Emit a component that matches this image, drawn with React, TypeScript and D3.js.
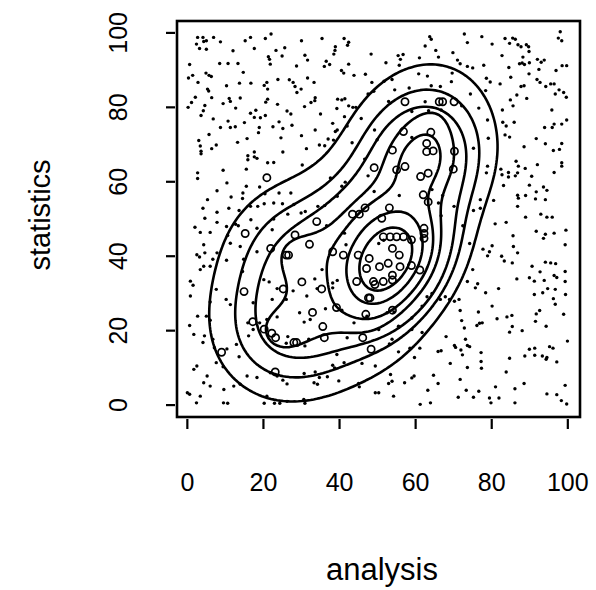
import React from "react";
import * as d3 from "d3";

// ---- data ----
const circlePts: [number, number][] = [
  [57.2,81.5],[66.2,81.5],[67.1,81.5],[70.1,81.5],
  [56.8,73.5],[64.0,73.3],[62.9,70.3],[64.6,68.3],[62.9,68.1],
  [53.9,68.5],[70.2,68.2],[57.2,64.1],[49.1,63.8],[55.0,63.2],
  [61.3,61.4],[63.3,62.3],[69.9,63.4],[20.9,61.1],[62.0,56.5],
  [63.3,54.6],[46.7,53.0],[53.1,53.0],[43.4,51.3],[45.2,51.3],
  [51.1,50.2],[34.0,49.3],[15.2,46.1],[28.3,45.7],[21.9,42.1],
  [26.0,40.3],[26.6,40.3],[32.1,43.2],[38.2,41.2],[41.0,40.3],
  [44.9,40.3],[47.8,39.4],[51.5,45.2],[53.3,45.2],[55.0,45.2],
  [56.8,45.2],[58.9,44.4],[62.2,47.5],[62.2,46.1],[62.2,44.8],
  [53.9,42.1],[55.7,40.3],[47.1,36.7],[50.5,37.2],[52.8,38.1],
  [55.9,37.2],[58.9,37.5],[61.1,36.3],[53.9,34.9],[53.9,33.6],
  [44.5,33.2],[48.9,33.2],[49.3,32.4],[51.5,33.2],[47.6,28.8],[48.0,28.8],
  [30.1,33.1],[25.2,31.2],[35.3,31.2],[14.9,30.5],[39.2,26.2],
  [32.9,24.9],[46.9,24.4],[53.9,25.5],[17.2,22.4],[20.2,20.4],
  [22.2,19.3],[23.2,18.1],[35.6,21.1],[36.0,18.1],[28.0,16.8],[28.7,16.8],
  [46.1,18.1],[48.3,15.0],[9.0,14.2],[23.1,8.9]
];

const dotsTopLeft: [number, number][] = [
  [2.7,98.8],[4.1,98.8],[5.0,97.9],[4.3,97.7],[6.9,98.8],[8.7,97.6],[2.4,97.0],[3.2,95.8],[5.0,95.6],
  [15.2,97.9],[16.6,98.8],[20.5,98.5],[22.0,99.7],[30.0,97.9],[25.6,96.0],[23.3,95.3],[17.6,95.8],[12.0,95.2],
  [21.3,93.6],[21.6,92.9],[24.9,93.8],[30.9,94.0],[31.6,92.7],[21.8,91.6],[28.7,91.1],
  [8.5,91.8],[10.7,91.8],[13.3,91.8],[0.6,91.5],[14.7,89.4],[4.9,89.2],[5.7,88.6],[6.3,88.3],[1.4,88.6],[0.3,87.9],
  [2.8,86.7],[13.7,86.5],[16.7,86.5],[20.9,86.7],[20.2,85.9],[23.8,87.5],[26.8,87.4],[27.8,86.7],[28.3,85.6],[31.6,87.9],[10.3,85.8],
  [5.3,84.9],[5.6,84.4],[21.1,84.9],[28.8,84.0],[29.9,84.9],
  [2.1,82.7],[6.4,82.6],[11.0,82.4],[11.3,81.6],[13.9,82.5],[9.4,81.0],[21.1,82.2],[20.6,81.4],[23.7,80.8],[1.1,81.3],[0.2,80.0],[4.6,80.5],[32.5,81.3],
  [12.7,79.8],[4.2,79.1],[3.6,77.8],[16.6,78.4],[18.0,79.2],[17.6,77.3],[19.2,77.2],[20.5,77.8],[26.2,79.0],[27.2,78.2],[30.8,80.2],
  [6.8,76.9],[10.7,76.3],[8.7,74.6],[11.3,74.6],[12.6,74.8],[15.0,75.9],[18.9,74.6],[22.5,74.8],[24.1,76.1],[25.1,74.3],[27.5,75.2],
  [5.7,72.7],[18.7,73.2],[24.6,71.8],[30.0,72.4],[3.0,71.1],[3.4,69.6],[7.6,69.9],[6.4,68.9],[13.2,70.6],[15.7,71.6],[3.6,68.2],[17.6,68.0],[31.3,68.9],[25.1,68.0]
];

const dotsTopMid: [number, number][] = [
  [35.4,98.5],[41.2,98.5],[63.7,99.0],[64.1,98.3],[42.4,97.5],[42.1,96.7],[38.9,96.3],[62.5,96.5],[38.8,95.3],[38.5,94.3],
  [65.3,95.3],[48.3,94.3],[55.4,93.9],[56.7,94.2],[56.0,92.9],[61.0,93.3],[66.0,93.5],[36.5,92.4],[36.0,91.0],[37.4,91.5],
  [42.4,91.6],[52.2,92.0],[55.7,91.3],[40.5,89.9],[41.1,89.2],[43.8,88.6],[46.8,88.9],[60.8,89.0],[63.1,88.4],
  [33.3,86.7],[48.5,86.7],[51.7,87.0],[53.8,87.5],[64.1,85.8],[66.5,85.6],[47.5,83.6],[49.0,84.3],[54.5,84.7],[58.3,85.2],
  [33.6,82.6],[39.5,82.2],[40.6,82.0],[41.4,82.3],[42.4,80.4],[43.5,80.0],[44.3,80.0],[39.3,79.7],[33.5,81.8],[52.9,81.6],
  [59.0,78.9],[62.5,81.5],[63.4,79.1],[66.7,79.3],[35.0,78.2],[41.3,77.5],[45.7,77.0],[38.2,75.7],[42.0,75.0],[39.4,73.9],
  [38.9,73.5],[33.6,73.9],[49.2,73.9],[37.0,71.5],[38.4,71.2],[34.7,69.9],[36.1,69.7],[43.3,70.5],[49.9,71.3],[59.0,71.9]
];

const dotsTopRight: [number, number][] = [
  [72.8,99.7],[77.4,99.0],[73.6,97.4],[80.1,97.0],[83.5,98.5],[85.5,98.6],[86.2,98.3],[84.7,97.2],[86.9,96.8],[87.7,96.3],
  [89.1,96.8],[89.7,96.3],[89.8,95.0],[98.0,100.3],[97.5,98.6],[98.4,97.9],[69.8,94.7],[71.0,92.7],[71.7,91.7],[73.6,91.0],
  [75.0,90.6],[77.9,91.3],[82.7,93.9],[88.2,93.5],[88.0,91.9],[87.3,91.7],[88.6,91.5],[89.9,92.0],[92.0,92.9],[93.8,92.7],
  [93.0,92.1],[98.5,91.2],[99.7,91.2],[96.9,89.9],[92.4,90.2],[89.8,89.0],[84.5,90.7],[69.6,89.2],[78.6,87.8],[79.6,86.8],
  [82.2,86.3],[85.0,88.1],[87.7,85.6],[88.5,85.8],[91.9,87.5],[92.7,86.7],[94.2,85.6],[95.5,86.3],[96.4,86.3],[96.7,83.6],
  [97.7,84.7],[98.9,84.0],[99.6,82.7],[74.4,83.6],[78.4,84.5],[84.9,82.0],[86.6,83.3],[89.2,82.4],[85.6,80.4],[82.8,79.3],
  [76.6,79.8],[78.9,76.6],[82.9,76.0],[83.8,75.0],[85.9,76.0],[83.5,72.6],[84.7,72.0],[91.7,71.6],[93.9,74.6],[95.9,74.6],
  [96.4,75.5],[98.4,75.5],[99.7,76.6],[95.8,79.3],[88.5,69.4],[94.1,70.2],[96.2,68.4],[97.8,68.7],[98.4,70.3],[75.2,69.0],
  [79.1,71.7],[69.4,86.9],[72.1,80.4]
];

const dotsMidLeft: [number, number][] = [
  [3.6,67.5],[15.9,67.0],[15.9,65.9],[17.6,66.7],[18.3,66.3],[21.1,65.1],[22.7,65.2],[30.2,64.5],[9.4,63.1],[15.5,63.4],
  [2.7,62.4],[2.7,60.9],[10.4,59.7],[15.5,58.8],[19.0,58.6],[7.8,57.6],[11.5,55.9],[14.6,57.0],[14.5,55.5],[20.4,56.8],
  [24.1,57.0],[27.2,57.0],[5.3,55.2],[4.1,52.9],[10.9,52.9],[13.6,52.3],[16.6,53.4],[18.5,53.4],[20.2,54.1],[22.7,54.3],
  [25.0,54.1],[28.0,53.9],[29.9,51.6],[31.0,52.0],[7.8,51.8],[4.6,50.2],[7.8,49.1],[12.7,48.6],[13.4,48.2],[10.3,48.0],
  [16.7,49.8],[22.7,50.0],[26.4,51.3],[2.0,47.8],[3.4,46.4],[6.0,46.4],[10.6,45.6],[18.3,47.5],[22.3,47.1],[4.3,43.1],
  [4.6,40.9],[7.8,40.9],[2.5,40.4],[3.2,39.8],[6.7,39.2],[11.3,43.5],[13.9,42.6],[14.8,39.2],[18.3,41.2],[4.3,37.3],
  [3.4,36.4],[6.0,37.3],[10.3,38.9],[14.5,35.9],[0.8,33.3],[1.5,32.2],[20.1,33.7],[21.5,33.1]
];

const dotsCenter: [number, number][] = [
  [46.6,66.1],[47.5,61.6],[49.1,57.4],[39.4,56.1],[41.5,59.9],[34.3,53.4],[36.1,53.6],[36.6,48.2],[41.3,46.2],[55.7,56.3],
  [64.3,57.9],[67.1,56.3],[66.0,54.3],[66.7,50.9],[35.4,36.4],[33.5,33.9],[38.2,32.8],[39.4,33.5],[50.3,43.4],[51.6,44.3],
  [41.7,43.1],[37.6,61.0],[40.6,58.8]
];

const dotsMidRight: [number, number][] = [
  [86.4,65.5],[87.0,64.2],[88.8,63.6],[92.0,64.6],[96.4,62.5],[98.4,65.1],[98.4,64.2],[82.4,63.4],[82.7,61.9],[84.4,62.5],
  [84.4,61.3],[86.2,61.6],[86.8,62.4],[78.9,64.2],[78.6,62.4],[83.1,59.0],[90.5,61.5],[89.9,59.1],[93.6,58.6],[94.5,57.7],
  [91.7,57.3],[91.5,55.4],[94.1,55.2],[86.8,56.4],[87.0,55.6],[88.9,56.3],[86.8,53.4],[80.5,55.0],[77.0,55.2],[77.0,52.9],
  [88.9,50.5],[92.9,51.3],[94.5,50.5],[95.9,50.5],[80.9,48.7],[83.8,49.1],[91.7,46.7],[94.1,45.9],[93.6,44.8],[96.4,46.2],
  [99.5,47.0],[99.3,43.1],[85.6,45.5],[85.7,42.6],[86.8,40.9],[80.1,42.8],[77.7,41.9],[79.4,41.2],[78.9,40.1],[82.6,40.0],
  [83.3,38.7],[85.4,38.2],[90.6,37.3],[94.1,38.4],[95.5,38.2],[96.8,38.0],[92.7,35.8],[99.3,35.9],[86.6,33.9],[89.9,34.2],
  [91.2,33.3],[93.8,33.5],[96.4,34.8],[97.1,34.3],[99.3,33.2],[75.0,36.4],[73.6,33.2],[76.3,32.6],[70.1,53.4],[72.4,48.2],
  [75.2,52.3],[74.2,43.4]
];

const dotsBottomLeft: [number, number][] = [
  [0.8,29.3],[7.6,31.1],[6.0,27.7],[10.2,28.4],[11.3,27.0],[17.3,27.5],[23.6,31.3],[22.3,28.4],[26.0,28.4],[27.8,30.7],
  [31.4,29.3],[29.5,24.8],[32.3,23.0],[30.7,22.3],[23.6,23.7],[20.9,23.0],[19.0,22.1],[15.9,22.1],[17.3,20.3],[16.1,18.6],
  [26.4,18.4],[26.0,16.6],[31.9,17.7],[30.9,15.9],[0.6,21.4],[2.7,23.9],[5.0,23.9],[6.0,22.8],[1.7,19.0],[4.5,18.6],
  [4.1,16.8],[6.7,17.7],[7.1,15.4],[10.4,15.1],[12.9,16.3],[13.6,13.0],[7.6,11.4],[9.4,10.3],[2.5,10.5],[1.7,9.6],
  [5.2,7.8],[4.3,6.0],[0.0,3.3],[0.6,2.9],[3.4,2.4],[2.4,0.6],[6.0,5.1],[9.6,4.2],[12.2,5.1],[13.9,5.6],
  [15.7,7.8],[18.3,7.4],[21.8,8.7],[23.6,7.8],[25.1,6.7],[26.2,5.7],[30.7,8.5],[20.9,2.4],[20.2,0.5],[22.9,0.5],
  [24.3,0.5],[26.2,1.0],[30.6,1.5],[30.9,0.5],[9.5,0.6],[10.6,0.5]
];

const dotsBottomMid: [number, number][] = [
  [34.1,31.3],[38.2,31.5],[36.3,25.9],[40.6,25.5],[47.2,23.9],[52.5,24.8],[54.3,25.0],[59.0,23.4],[61.7,26.6],[63.0,29.1],
  [64.3,30.0],[66.5,28.4],[67.8,29.1],[42.0,18.1],[43.8,22.1],[50.3,20.3],[55.5,21.2],[59.0,20.3],[61.7,19.5],[53.8,17.7],
  [53.1,16.4],[55.5,14.3],[58.5,15.3],[61.1,15.3],[59.7,12.8],[65.9,14.4],[66.7,14.6],[68.0,18.4],[39.3,13.6],[41.2,11.4],
  [38.2,10.7],[38.7,10.0],[45.9,11.2],[49.4,10.5],[33.6,8.9],[34.7,7.4],[36.8,7.6],[39.8,6.5],[33.3,6.0],[34.2,5.6],
  [45.0,5.8],[45.2,4.9],[53.4,8.2],[53.8,6.4],[52.9,5.8],[57.1,6.0],[59.0,7.3],[59.6,7.8],[64.7,8.0],[65.9,5.8],
  [63.2,4.0],[49.4,3.3],[50.3,3.3],[54.2,2.4],[61.2,0.2],[63.9,0.6]
];

const dotsBottomRight: [number, number][] = [
  [75.7,31.5],[78.4,30.2],[81.8,31.3],[91.2,29.7],[93.4,30.2],[94.7,31.3],[96.7,31.1],[99.4,29.7],[96.2,28.6],[96.7,27.1],
  [68.9,28.4],[70.2,27.9],[71.4,28.4],[80.1,26.6],[71.7,25.4],[76.5,25.0],[72.1,22.7],[72.8,20.7],[76.1,21.4],[76.8,22.0],
  [77.5,22.1],[81.4,23.2],[84.0,23.7],[85.3,24.1],[91.7,24.5],[92.6,25.4],[91.5,22.5],[94.3,21.2],[98.9,24.4],[85.4,21.1],
  [84.7,19.6],[88.0,20.0],[99.9,17.2],[70.2,16.0],[70.5,15.5],[73.1,17.7],[73.6,16.0],[74.2,15.7],[71.9,14.8],[72.3,13.5],
  [77.2,14.1],[89.9,15.0],[91.3,15.3],[88.7,13.2],[91.3,13.4],[93.3,13.2],[94.5,12.8],[94.3,12.3],[95.2,15.7],[96.1,15.3],
  [97.1,11.6],[84.7,12.6],[69.1,11.2],[73.6,10.1],[77.2,11.7],[77.3,9.9],[83.8,8.9],[71.7,6.9],[88.5,5.8],[81.0,4.9],
  [86.1,4.4],[73.3,4.0],[76.6,3.7],[71.2,2.1],[75.2,2.1],[79.4,1.9],[81.9,1.9],[79.8,0.6],[86.1,0.6],[94.5,3.0],
  [97.1,2.8],[98.3,1.2],[99.3,5.3],[99.7,0.3]
];

// points the three outer contour lines pass through
const outerMarks: [number, number][][] = [
  [[4.2,38.1],[13,51.5],[32.2,60.5],[2,27],[8.6,6.3],[62,91.8],[81.3,61.8],[65.5,26.9],[41,6.3],[46.2,77.1],[76.9,85.1]],
  [[13,38.1],[21.7,48.8],[35.7,55.1],[9.5,20.2],[62.9,87.4],[76.9,54.7],[58.5,25.1],[32.2,8.1],[48.9,73.5],[75.1,78]],
  [[17.3,38.1],[26.1,47],[39.2,50.6],[14.3,22.8],[64.6,83.8],[74.7,62.7],[61.1,30.5],[41,17],[51.5,69.9],[72.5,50.2]],
];
// inner contour levels (fraction of the peak of the default-bandwidth estimate)
const innerLevels = [0.35, 0.47, 0.64, 0.8];
const outerBandwidth = 1.35;
const innerBandwidth = 1.0;

const xTicks = [0, 20, 40, 60, 80, 100];
const yTicks = [0, 20, 40, 60, 80, 100];
const xTitle = "analysis";
const yTitle = "statistics";

// ---- layout ----
const W = 596, H = 590;
const box = { left: 177, right: 580, top: 21, bottom: 417 };
const FONT = "'Liberation Sans', Arial, Helvetica, sans-serif";

function nrdSd(v: number[]) {
  const s = [...v].sort((a, b) => a - b);
  const sd = d3.deviation(s) as number;
  const iqr = (d3.quantile(s, 0.75) as number) - (d3.quantile(s, 0.25) as number);
  return 1.06 * Math.min(sd, iqr / 1.34) * Math.pow(v.length, -0.2);
}

const g0 = -30, gStep = 0.8, gN = 201;
const xsD = circlePts.map((d) => d[0]);
const ysD = circlePts.map((d) => d[1]);
const baseHx = nrdSd(xsD);
const baseHy = nrdSd(ysD);

function kdeAt(px: number, py: number, hx: number, hy: number, lam: number[] | null) {
  let s = 0;
  for (let k = 0; k < xsD.length; k++) {
    const l = lam ? lam[k] : 1;
    const ux = (px - xsD[k]) / (hx * l), uy = (py - ysD[k]) / (hy * l);
    s += Math.exp(-0.5 * (ux * ux + uy * uy)) / (l * l);
  }
  return s / (xsD.length * 2 * Math.PI * hx * hy);
}

function gridOf(f: (px: number, py: number) => number) {
  const vals: number[] = new Array(gN * gN);
  for (let j = 0; j < gN; j++) {
    for (let i = 0; i < gN; i++) vals[j * gN + i] = f(g0 + i * gStep, g0 + j * gStep);
  }
  return vals;
}

export default function App() {
  const x = d3.scaleLinear().domain([-2.72, 103.2]).range([box.left, box.right]);
  const y = d3.scaleLinear().domain([-3.2, 103.2]).range([box.bottom, box.top]);

  const dots = [
    ...dotsTopLeft, ...dotsTopMid, ...dotsTopRight, ...dotsMidLeft, ...dotsCenter,
    ...dotsMidRight, ...dotsBottomLeft, ...dotsBottomMid, ...dotsBottomRight,
  ];

  const { outerC, innerC } = React.useMemo(() => {
    // adaptive (Abramson) wide-kernel estimate for the outer lines
    const pilot = xsD.map((_, k) => kdeAt(xsD[k], ysD[k], baseHx, baseHy, null));
    const gm = Math.exp(d3.mean(pilot, (v) => Math.log(v)) as number);
    const lam = pilot.map((v) => Math.max(0.5, Math.min(2.5, Math.pow(v / gm, -0.5))));
    const ohx = baseHx * outerBandwidth, ohy = baseHy * outerBandwidth;
    const wideF = (px: number, py: number) => kdeAt(px, py, ohx, ohy, lam);
    const wide = gridOf(wideF);
    const outerT = outerMarks.map((pts) => Math.exp(d3.mean(pts, (p) => Math.log(wideF(p[0], p[1]))) as number));
    const ihx = baseHx * innerBandwidth, ihy = baseHy * innerBandwidth;
    const narrow = gridOf((px, py) => kdeAt(px, py, ihx, ihy, null));
    const nMax = d3.max(narrow) as number;
    const outerC = d3.contours().size([gN, gN]).thresholds(outerT)(wide);
    const innerC = d3.contours().size([gN, gN]).thresholds(innerLevels.map((f) => f * nMax))(narrow);
    return { outerC, innerC };
  }, []);

  const proj = d3.geoTransform({
    point(px: number, py: number) {
      (this as any).stream.point(x(g0 + (px - 0.5) * gStep), y(g0 + (py - 0.5) * gStep));
    },
  });
  const path = d3.geoPath(proj);
  const allC = [...outerC, ...innerC];

  return (
    <svg width={W} height={H} style={{ position: "absolute", left: 0, top: 0, background: "#fff" }}>
      <rect x={0} y={0} width={W} height={H} fill="#fff" />
      <defs>
        <clipPath id="dataClip">
          <rect x={x(0)} y={y(100)} width={x(100) - x(0)} height={y(0) - y(100)} />
        </clipPath>
      </defs>
      {dots.map((d, i) => (
        <circle key={"d" + i} cx={x(d[0])} cy={y(d[1])} r={1.7} fill="#000" />
      ))}
      <g clipPath="url(#dataClip)">
        {allC.map((c, i) => (
          <path key={"c" + i} d={path(c as any) || ""} fill="none" stroke="#000" strokeWidth={2.6} strokeLinejoin="round" />
        ))}
      </g>
      {circlePts.map((d, i) => (
        <circle key={"p" + i} cx={x(d[0])} cy={y(d[1])} r={3.6} fill="none" stroke="#000" strokeWidth={1.7} />
      ))}
      <rect x={box.left} y={box.top} width={box.right - box.left} height={box.bottom - box.top} fill="none" stroke="#000" strokeWidth={2.6} />
      {xTicks.map((t) => (
        <g key={"xt" + t}>
          <line x1={x(t)} x2={x(t)} y1={box.bottom + 2} y2={box.bottom + 12} stroke="#000" strokeWidth={2.2} />
          <text x={x(t)} y={491} textAnchor="middle" fontFamily={FONT} fontSize={25} fill="#000">{t}</text>
        </g>
      ))}
      {yTicks.map((t) => (
        <g key={"yt" + t}>
          <line x1={box.left - 2} x2={box.left - 11} y1={y(t)} y2={y(t)} stroke="#000" strokeWidth={2.2} />
          <text transform={`translate(127,${y(t)}) rotate(-90)`} textAnchor="middle" fontFamily={FONT} fontSize={25} fill="#000">{t}</text>
        </g>
      ))}
      <text x={382} y={580} textAnchor="middle" fontFamily={FONT} fontSize={31} fill="#000">{xTitle}</text>
      <text transform={`translate(50,215) rotate(-90)`} textAnchor="middle" fontFamily={FONT} fontSize={29} fill="#000">{yTitle}</text>
    </svg>
  );
}
